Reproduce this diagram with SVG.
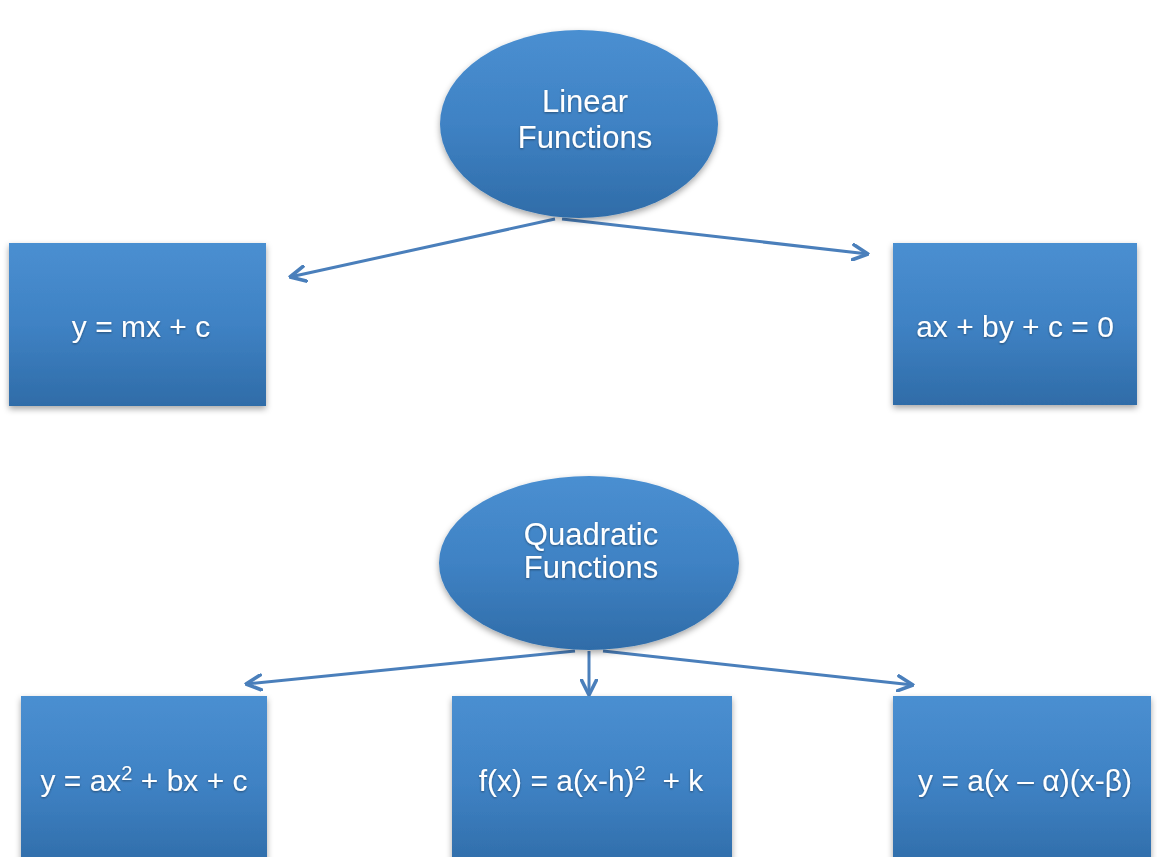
<svg xmlns="http://www.w3.org/2000/svg" width="1157" height="857" viewBox="0 0 1157 857">
<defs>
<linearGradient id="g" x1="0" y1="0" x2="0" y2="1">
<stop offset="0" stop-color="#4a8fd1"/>
<stop offset="0.5" stop-color="#3f82c4"/>
<stop offset="1" stop-color="#2f6ca8"/>
</linearGradient>
<filter id="sh" x="-10%" y="-10%" width="120%" height="125%">
<feDropShadow dx="0" dy="3" stdDeviation="3" flood-color="#000" flood-opacity="0.35"/>
</filter>
<filter id="ts" x="-10%" y="-20%" width="120%" height="140%">
<feDropShadow dx="0" dy="1" stdDeviation="1" flood-color="#000" flood-opacity="0.4"/>
</filter>
<marker id="arr" viewBox="0 0 12 12" refX="11" refY="6" markerWidth="6" markerHeight="6" orient="auto" markerUnits="strokeWidth">
<path d="M1,1 L11,6 L1,11" fill="none" stroke="#4a7fbb" stroke-width="2.4" stroke-linecap="round" stroke-linejoin="round"/>
</marker>
</defs>
<style>
.shape{fill:url(#g);filter:url(#sh)}
.t{font-family:"Liberation Sans",Arial,sans-serif;fill:#fff;text-anchor:middle;filter:url(#ts)}
.box{font-size:30px}
.ell{font-size:31px}
.c{stroke:#4a7fbb;stroke-width:3;fill:none;marker-end:url(#arr)}
</style>
<rect width="1157" height="857" fill="#fff"/>
<g id="connectors">
<line class="c" x1="555" y1="219" x2="290" y2="277"/>
<line class="c" x1="562" y1="219" x2="868" y2="254"/>
<line class="c" x1="575" y1="651" x2="246" y2="684"/>
<line class="c" x1="589" y1="651" x2="589" y2="695"/>
<line class="c" x1="603" y1="651" x2="913" y2="685"/>
</g>
<g id="linear">
<ellipse class="shape" cx="579" cy="124" rx="139" ry="94"/>
<text class="t ell" x="585" y="112">Linear</text>
<text class="t ell" x="585" y="148">Functions</text>
</g>
<g id="slope-form">
<rect class="shape" x="9" y="243" width="257" height="163"/>
<text class="t box" x="141" y="337">y = mx + c</text>
</g>
<g id="general-form">
<rect class="shape" x="893" y="243" width="244" height="162"/>
<text class="t box" x="1015" y="337">ax + by + c = 0</text>
</g>
<g id="quadratic">
<ellipse class="shape" cx="589" cy="563" rx="150" ry="87"/>
<text class="t ell" x="591" y="545">Quadratic</text>
<text class="t ell" x="591" y="578">Functions</text>
</g>
<g id="standard-form">
<rect class="shape" x="21" y="696" width="246" height="175"/>
<text class="t box" x="144" y="791">y = ax<tspan font-size="20" dy="-11">2</tspan><tspan dy="11"> + bx + c</tspan></text>
</g>
<g id="vertex-form">
<rect class="shape" x="452" y="696" width="280" height="175"/>
<text class="t box" x="591" y="791">f(x) = a(x-h)<tspan font-size="20" dy="-11">2</tspan><tspan dy="11" xml:space="preserve">  + k</tspan></text>
</g>
<g id="factored-form">
<rect class="shape" x="893" y="696" width="258" height="175"/>
<text class="t box" x="1025" y="791">y = a(x – α)(x-β)</text>
</g>
</svg>
